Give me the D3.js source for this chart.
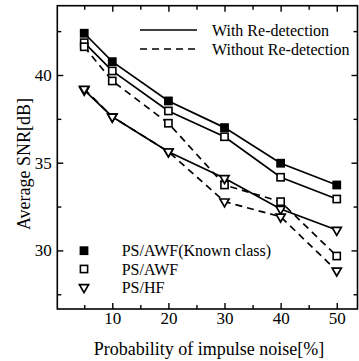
<!DOCTYPE html>
<html>
<head>
<meta charset="utf-8">
<script src="https://cdn.jsdelivr.net/npm/d3@7"></script>
<style>
  body { margin: 0; background: #fff; }
  text { font-family: "Liberation Serif", "Times New Roman", serif; fill: #000; }
</style>
</head>
<body>
<div id="chart"></div>
<script>
'use strict';

var w = 359;
var h = 361;

// noise probability [%]
var noise = [ 5, 10, 20, 30, 40, 50 ];

// average SNR [dB]
var awfKnownRe = [ 42.38, 40.76, 38.52, 37.0, 34.97, 33.73 ];
var awfRe = [ 41.84, 40.23, 37.95, 36.48, 34.17, 32.93 ];
var awfNoRe = [ 41.61, 39.66, 37.25, 33.73, 32.78, 29.68 ];
var hfRe = [ 39.14, 37.62, 35.63, 34.11, 32.36, 31.16 ];
var hfNoRe = [ 39.2, 37.62, 35.63, 32.78, 31.92, 28.84 ];

// ticks
var xMajor = [ 10, 20, 30, 40, 50 ];
var xMinor = [ 5, 15, 25, 35, 45 ];
var yMajor = [ 30, 35, 40 ];
var yMinor = [ 27.5, 32.5, 37.5, 42.5 ];

var lineNames = [ 'With Re-detection', 'Without Re-detection' ];
var markerNames = [ 'PS/AWF(Known class)', 'PS/AWF', 'PS/HF' ];

var series = [
	{ values: awfKnownRe, marker: 'filled', dashed: false },
	{ values: awfRe, marker: 'open', dashed: false },
	{ values: awfNoRe, marker: 'open', dashed: true },
	{ values: hfRe, marker: 'tri', dashed: false },
	{ values: hfNoRe, marker: 'tri', dashed: true }
];

var padL = 57.3, padR = 357.5, padT = 5.7, padB = 309;

var x = d3.scaleLinear().domain([ 0.2, 53.7 ]).range([ padL, padR ]);
var y = d3.scaleLinear().domain([ 26.66, 43.95 ]).range([ padB, padT ]);

var svg = d3.select('#chart')
	.append('svg')
	.attr('width', w)
	.attr('height', h);

var fmt = function(d) { return d; };

// bottom axis with labels, ticks pointing inward
svg.append('g')
	.attr('transform', 'translate(0,' + padB + ')')
	.call(d3.axisBottom(x).tickValues(xMajor).tickSize(-6).tickPadding(2.5).tickFormat(fmt));
svg.append('g')
	.attr('transform', 'translate(0,' + padB + ')')
	.call(d3.axisBottom(x).tickValues(xMinor).tickSize(-4).tickFormat(''));
svg.append('g')
	.attr('transform', 'translate(0,' + padT + ')')
	.call(d3.axisTop(x).tickValues(xMajor).tickSize(-6).tickFormat(''));
svg.append('g')
	.attr('transform', 'translate(0,' + padT + ')')
	.call(d3.axisTop(x).tickValues(xMinor).tickSize(-4).tickFormat(''));

svg.append('g')
	.attr('transform', 'translate(' + padL + ',0)')
	.call(d3.axisLeft(y).tickValues(yMajor).tickSize(-6).tickPadding(5.5).tickFormat(fmt));
svg.append('g')
	.attr('transform', 'translate(' + padL + ',0)')
	.call(d3.axisLeft(y).tickValues(yMinor).tickSize(-4).tickFormat(''));
svg.append('g')
	.attr('transform', 'translate(' + padR + ',0)')
	.call(d3.axisRight(y).tickValues(yMajor).tickSize(-6).tickFormat(''));
svg.append('g')
	.attr('transform', 'translate(' + padR + ',0)')
	.call(d3.axisRight(y).tickValues(yMinor).tickSize(-4).tickFormat(''));

svg.selectAll('.domain').remove();
svg.selectAll('.tick line').attr('stroke', '#000').attr('stroke-width', 1.4);
svg.selectAll('.tick text')
	.style('font-family', '"Liberation Serif", "Times New Roman", serif')
	.style('font-size', '17px')
	.attr('fill', '#000');

// frame
svg.append('rect')
	.attr('x', padL)
	.attr('y', padT)
	.attr('width', padR - padL)
	.attr('height', padB - padT)
	.attr('fill', 'none')
	.attr('stroke', '#000')
	.attr('stroke-width', 1.6);

// lines
var line = d3.line()
	.x(function(d, i) { return x(noise[i]); })
	.y(function(d) { return y(d); });

series.forEach(function(s) {
	svg.append('path')
		.datum(s.values)
		.attr('d', line)
		.attr('fill', 'none')
		.attr('stroke', '#000')
		.attr('stroke-width', 1.7)
		.attr('stroke-dasharray', s.dashed ? '7,5' : null);
});

// markers
var tri = d3.symbol().type(d3.symbolTriangle).size(36);

var drawMarker = function(g, kind, cx, cy) {
	if (kind === 'tri') {
		g.append('path')
			.attr('d', tri())
			.attr('transform', 'translate(' + cx + ',' + cy + ') rotate(180)')
			.attr('fill', '#fff')
			.attr('stroke', '#000')
			.attr('stroke-width', 1.7);
	} else {
		g.append('rect')
			.attr('x', cx - 3.6)
			.attr('y', cy - 3.6)
			.attr('width', 7.2)
			.attr('height', 7.2)
			.attr('fill', kind === 'filled' ? '#000' : '#fff')
			.attr('stroke', '#000')
			.attr('stroke-width', 1.6);
	}
};

var marks = svg.append('g');
series.forEach(function(s) {
	s.values.forEach(function(v, i) {
		drawMarker(marks, s.marker, x(noise[i]), y(v));
	});
});

// line style legend
var lg = svg.append('g');
lineNames.forEach(function(name, i) {
	var ly = 30 + i * 19;
	lg.append('line')
		.attr('x1', 140).attr('x2', 197)
		.attr('y1', ly).attr('y2', ly)
		.attr('stroke', '#000')
		.attr('stroke-width', 1.7)
		.attr('stroke-dasharray', i === 1 ? '7,5' : null);
	lg.append('text')
		.attr('x', 212)
		.attr('y', ly + 6)
		.style('font-size', '16px')
		.text(name);
});

// marker legend
var mg = svg.append('g');
var kinds = [ 'filled', 'open', 'tri' ];
markerNames.forEach(function(name, i) {
	var my = 250.7 + i * 18.3;
	drawMarker(mg, kinds[i], 84, my);
	mg.append('text')
		.attr('x', 121.7)
		.attr('y', my + 5.5)
		.style('font-size', '16px')
		.text(name);
});

// axis titles
svg.append('text')
	.attr('x', 209)
	.attr('y', 355)
	.attr('text-anchor', 'middle')
	.style('font-size', '18px')
	.text('Probability of impulse noise[%]');

svg.append('text')
	.attr('transform', 'translate(30,164) rotate(-90)')
	.attr('text-anchor', 'middle')
	.style('font-size', '18px')
	.text('Average SNR[dB]');
</script>
</body>
</html>
